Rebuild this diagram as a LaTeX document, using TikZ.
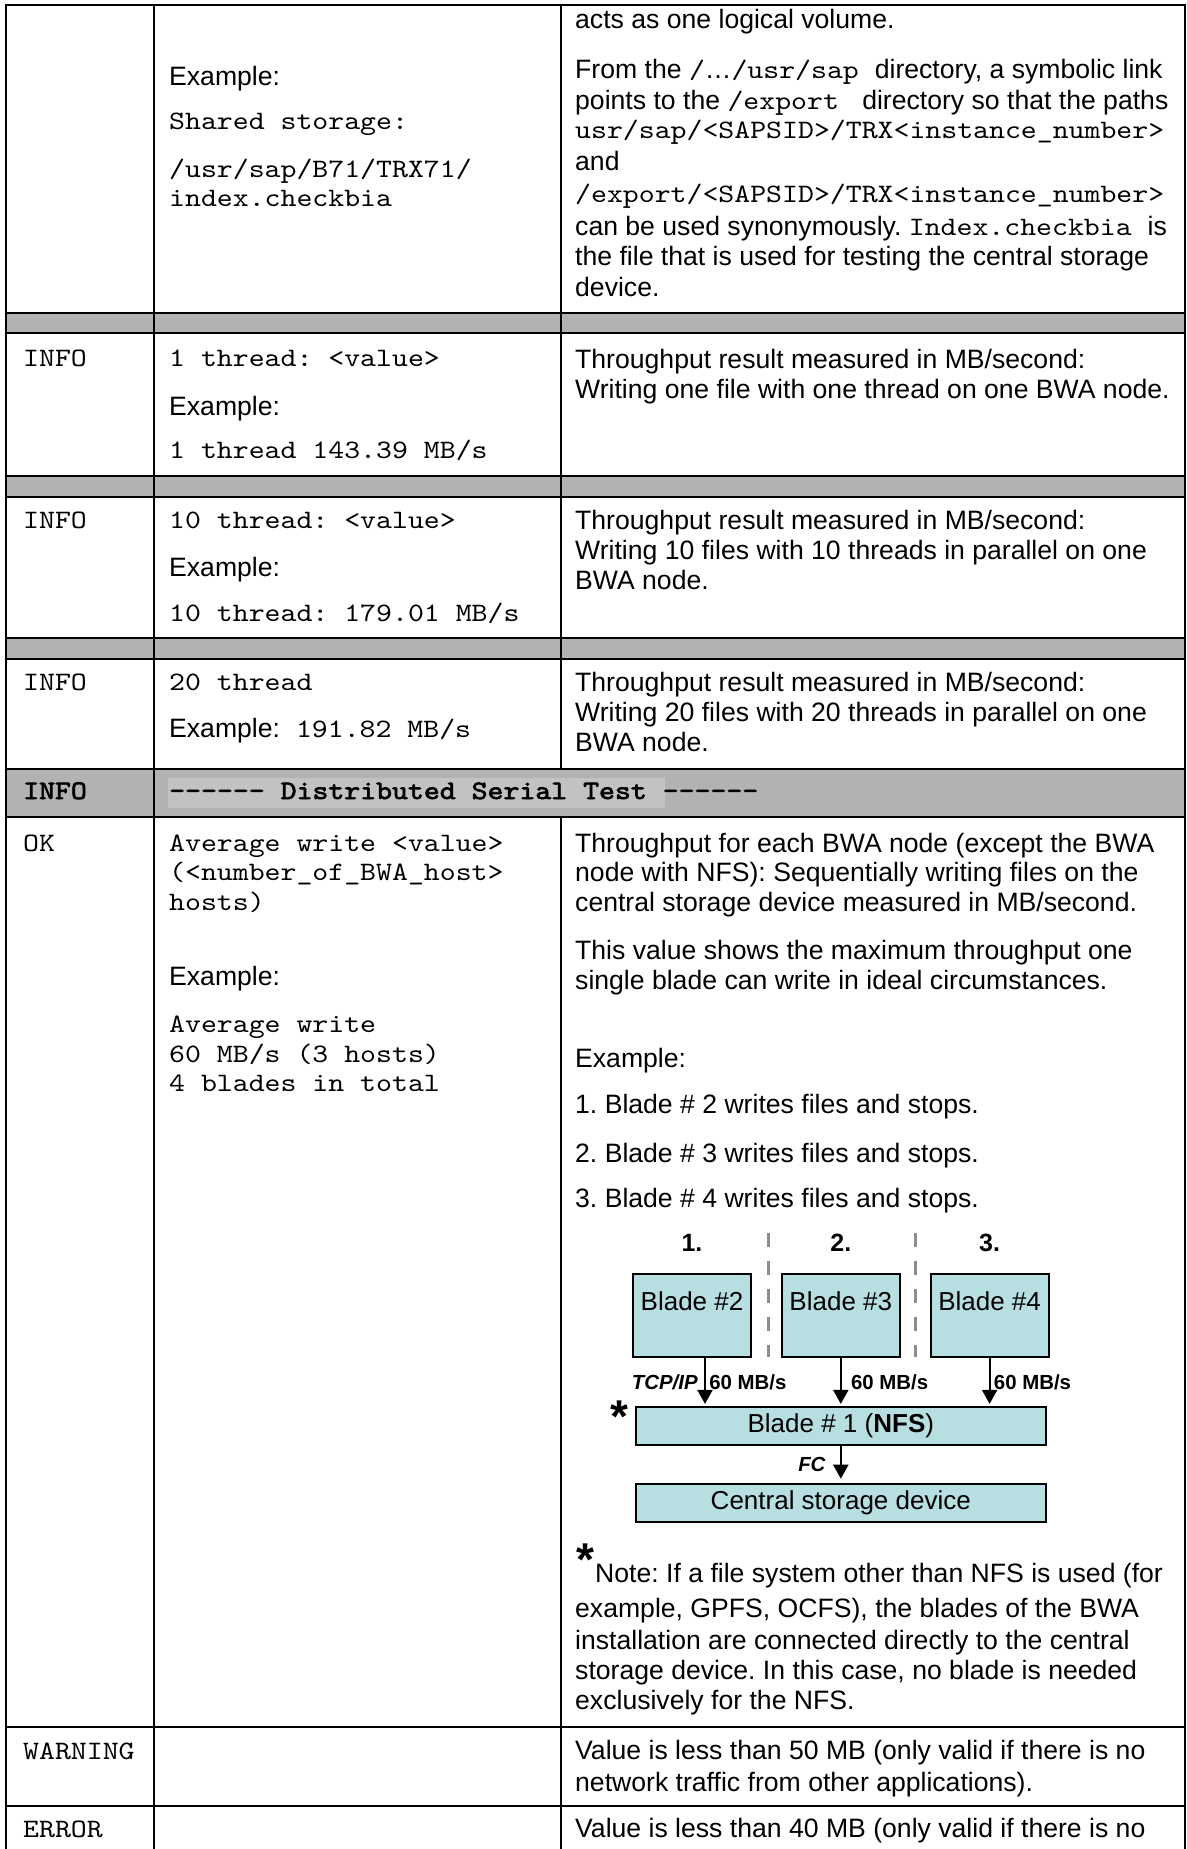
\documentclass[tikz,border=0pt]{standalone}
\usepackage{fontspec}
\setmainfont{Liberation Sans}
\setmonofont{lmmono10-regular.otf}[FakeStretch=1.14,
  BoldFont=lmmono10-regular.otf, BoldFeatures={FakeBold=2.5}]
\usetikzlibrary{positioning, arrows.meta}

\definecolor{rowgray}{RGB}{178,178,178}
\definecolor{hlgray}{RGB}{194,194,194}
\definecolor{bladefill}{RGB}{183,222,225}
\definecolor{divgray}{RGB}{140,140,140}

\begin{document}
\frenchspacing
\begin{tikzpicture}[%
  x = 1pt, y = -1pt,
  txt/.style =      {anchor=base west, inner sep=0pt,
                     font=\fontsize{26.6}{31}\selectfont},
  code/.style =     {txt, font=\fontsize{26.6}{31}\selectfont\ttfamily},
  codeb/.style =    {txt, font=\fontsize{26.6}{31}\selectfont\ttfamily\bfseries},
  rule/.style =     {line width=2.2pt, line cap=rect},
  blade/.style =    {rectangle, draw, line width=1.8pt, fill=bladefill,
                     minimum width=118pt, inner sep=0pt,
                     text height=36pt, text depth=47pt,
                     font=\fontsize{26}{30}\selectfont},
  wide/.style =     {rectangle, draw, line width=1.8pt, fill=bladefill,
                     minimum width=410pt, minimum height=38pt, inner sep=0pt,
                     font=\fontsize{26}{30}\selectfont},
  stepno/.style =   {inner sep=0pt, font=\fontsize{25}{30}\selectfont\bfseries},
  rate/.style =     {font=\fontsize{20.4}{24}\selectfont\bfseries},
  link/.style =     {font=\fontsize{20.4}{24}\selectfont\bfseries\itshape},
  flow/.style =     {-{Triangle[width=15pt,length=14pt]}, line width=2pt},
  divider/.style =  {draw=divgray, line width=3pt, dash pattern=on 14pt off 14pt},
  asterisk/.style = {anchor=base west, inner sep=0pt,
                     font=\fontsize{46}{46}\selectfont\bfseries}
]

  \useasboundingbox (0,0) rectangle (1186,1849);

  % shaded rows
  \fill[rowgray] (6,313) rectangle (1185,333);
  \fill[rowgray] (6,476) rectangle (1185,497);
  \fill[rowgray] (6,638) rectangle (1185,659);
  \fill[rowgray] (6,769) rectangle (1185,817);
  \fill[hlgray] (168,778) rectangle (665,808);

  % table rules
  \foreach \y in {5,313,333,476,497,638,659,769,817,1727,1806}
    \draw[rule] (6,\y) -- (1185,\y);
  \draw[rule] (6,5) -- (6,1849);
  \draw[rule] (154,5) -- (154,1849);
  \draw[rule] (561,5) -- (561,769);
  \draw[rule] (561,817) -- (561,1849);
  \draw[rule] (1185,5) -- (1185,1849);

  % first row
  \node[txt]  (ex0) at (169,86)  {Example:};
  \node[code] (sh0) at (169,130) {Shared storage:};
  \node[code] (pa0) at (169,177) {/usr/sap/B71/TRX71/};
  \node[code] (pb0) at (169,206) {index.checkbia};

  \node[txt]  (vol) at (575,29)  {acts as one logical volume.};
  \node[txt]  (ln1) at (575,79)  {From the \texttt{/}…\texttt{/usr/sap }directory, a symbolic link};
  \node[txt]  (ln2) at (575,110) {points to the \texttt{/export } directory so that the paths};
  \node[code] (ln3) at (575,139) {usr/sap/<SAPSID>/TRX<instance\_number>};
  \node[txt]  (ln4) at (575,170) {and};
  \node[code] (ln5) at (575,202) {/export/<SAPSID>/TRX<instance\_number>};
  \node[txt]  (ln6) at (575,235) {can be used synonymously. \texttt{Index.checkbia }is};
  \node[txt]  (ln7) at (575,265) {the file that is used for testing the central storage};
  \node[txt]  (ln8) at (575,296) {device.};

  % 1 thread
  \node[code] (lv1) at (23,366)  {INFO};
  \node[code] (v1)  at (169,366) {1 thread: <value>};
  \node[txt]  (e1)  at (169,415) {Example:};
  \node[code] (r1)  at (169,458) {1 thread 143.39 MB/s};
  \node[txt]  (d1a) at (575,368) {Throughput result measured in MB/second:};
  \node[txt]  (d1b) at (575,398) {Writing one file with one thread on one BWA node.};

  % 10 threads
  \node[code] (lv2) at (23,528)  {INFO};
  \node[code] (v2)  at (169,528) {10 thread: <value>};
  \node[txt]  (e2)  at (169,576) {Example:};
  \node[code] (r2)  at (169,621) {10 thread: 179.01 MB/s};
  \node[txt]  (d2a) at (575,529) {Throughput result measured in MB/second:};
  \node[txt]  (d2b) at (575,559) {Writing 10 files with 10 threads in parallel on one};
  \node[txt]  (d2c) at (575,589) {BWA node.};

  % 20 threads
  \node[code] (lv3) at (23,690)  {INFO};
  \node[code] (v3)  at (169,690) {20 thread};
  \node[txt]  (e3)  at (169,737) {Example:\texttt{ 191.82 MB/s}};
  \node[txt]  (d3a) at (575,691) {Throughput result measured in MB/second:};
  \node[txt]  (d3b) at (575,721) {Writing 20 files with 20 threads in parallel on one};
  \node[txt]  (d3c) at (575,751) {BWA node.};

  % header
  \node[codeb] (lvh) at (23,799)  {INFO};
  \node[codeb] (hd)  at (169,799) {-{}-{}-{}-{}-{}- Distributed Serial Test -{}-{}-{}-{}-{}-};

  % serial test
  \node[code] (lv4) at (23,851)   {OK};
  \node[code] (avg) at (169,851)  {Average write <value>};
  \node[code] (nbh) at (169,880)  {(<number\_of\_BWA\_host>};
  \node[code] (hst) at (169,910)  {hosts)};
  \node[txt]  (e4)  at (169,985)  {Example:};
  \node[code] (a4a) at (169,1032) {Average write};
  \node[code] (a4b) at (169,1062) {60 MB/s (3 hosts)};
  \node[code] (a4c) at (169,1091) {4 blades in total};

  \node[txt] (t4a) at (575,852)  {Throughput for each BWA node (except the BWA};
  \node[txt] (t4b) at (575,881)  {node with NFS): Sequentially writing files on the};
  \node[txt] (t4c) at (575,911)  {central storage device measured in MB/second.};
  \node[txt] (t4d) at (575,959)  {This value shows the maximum throughput one};
  \node[txt] (t4e) at (575,989)  {single blade can write in ideal circumstances.};
  \node[txt] (t4f) at (575,1067) {Example:};
  \node[txt] (st1) at (575,1113) {1. Blade \# 2 writes files and stops.};
  \node[txt] (st2) at (575,1162) {2. Blade \# 3 writes files and stops.};
  \node[txt] (st3) at (575,1207) {3. Blade \# 4 writes files and stops.};

  % blades
  \node[blade] (b2) at (692,1315.5) {Blade \#2};
  \node[blade, right=29pt of b2] (b3) {Blade \#3};
  \node[blade, right=29pt of b3] (b4) {Blade \#4};

  \node[stepno, above=21pt of b2] (n1) {1.};
  \node[stepno, above=21pt of b3] (n2) {2.};
  \node[stepno, above=21pt of b4] (n3) {3.};

  \draw[divider] (768,1233) -- (768,1357);
  \draw[divider] (915,1233) -- (915,1357);

  \node[wide, below=48pt of b3] (nfs) {Blade \# 1 (\textbf{NFS})};
  \node[wide, below=37pt of nfs] (csd) {Central storage device};
  \node[asterisk] (ast1) at (610,1432) {*};

  % data flows
  \draw[flow, shorten >=2pt] ([xshift=13pt]b2.south) -- ([xshift=13pt]b2.south |- nfs.north)
        node[rate, midway, right] (m1) {60 MB/s}
        node[link, midway, left, xshift=-3pt] (tcp) {TCP/IP};
  \draw[flow, shorten >=2pt] (b3.south) -- (b3.south |- nfs.north)
        node[rate, midway, right, xshift=6pt] (m2) {60 MB/s};
  \draw[flow, shorten >=2pt] (b4.south) -- (b4.south |- nfs.north)
        node[rate, midway, right] (m3) {60 MB/s};
  \draw[flow, shorten >=4pt] (nfs) -- (csd)
        node[link, midway, left, xshift=-11pt] (fc) {FC};

  % note
  \node[txt] (nt1) at (595,1582) {Note: If a file system other than NFS is used (for};
  \node[asterisk, anchor=base east] (ast2) at ([yshift=7pt]nt1.base west) {*};
  \node[txt] (nt2) at (575,1617) {example, GPFS, OCFS), the blades of the BWA};
  \node[txt] (nt3) at (575,1649) {installation are connected directly to the central};
  \node[txt] (nt4) at (575,1679) {storage device. In this case, no blade is needed};
  \node[txt] (nt5) at (575,1709) {exclusively for the NFS.};

  % warning and error
  \node[code] (lv5) at (23,1759)  {WARNING};
  \node[txt]  (w1)  at (575,1759) {Value is less than 50 MB (only valid if there is no};
  \node[txt]  (w2)  at (575,1791) {network traffic from other applications).};
  \node[code] (lv6) at (23,1837)  {ERROR};
  \node[txt]  (er1) at (575,1837) {Value is less than 40 MB (only valid if there is no};

\end{tikzpicture}
\end{document}
